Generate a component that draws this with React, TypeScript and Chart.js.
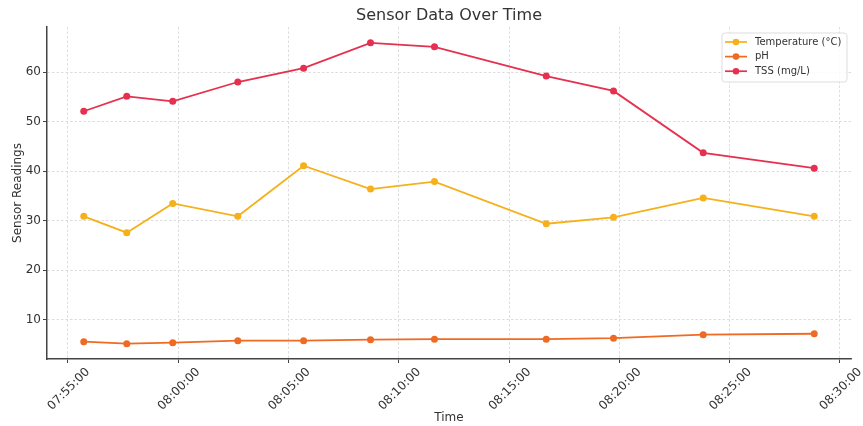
import { useEffect, useRef } from "react";
import { Chart, registerables } from "chart.js";

Chart.register(...registerables);

const times = ["07:55:43", "07:57:40", "07:59:45", "08:02:42", "08:05:41", "08:08:43", "08:11:37", "08:16:41", "08:19:44", "08:23:48", "08:28:50"];
const temperature = [30.9, 27.6, 33.5, 30.9, 41.1, 36.4, 37.9, 29.4, 30.7, 34.6, 30.9];
const ph = [5.6, 5.2, 5.4, 5.8, 5.8, 6.0, 6.1, 6.1, 6.3, 7.0, 7.2];
const tss = [52.1, 55.1, 54.1, 58.0, 60.8, 65.9, 65.1, 59.2, 56.2, 43.7, 40.6];
const xTickLabels = ["07:55:00", "08:00:00", "08:05:00", "08:10:00", "08:15:00", "08:20:00", "08:25:00", "08:30:00"];
const yTicks = [10, 20, 30, 40, 50, 60];
const xRange = ["07:54:03", "08:30:30"];
const yRange = [2.1, 69.1];
const seriesLabels = ["Temperature (°C)", "pH", "TSS (mg/L)"];
const seriesColors = ["#f5b01a", "#ef6a22", "#e6304f"];

const toSec = (t: string) => {
  const [h, m, s] = t.split(":").map(Number);
  return h * 3600 + m * 60 + s;
};

const FONT = "'DejaVu Sans', sans-serif";

const titlePlugin = {
  id: "centeredTitle",
  afterDraw(chart: any) {
    const { ctx, chartArea } = chart;
    ctx.save();
    ctx.font = `16px ${FONT}`;
    ctx.fillStyle = "#333333";
    ctx.textAlign = "center";
    ctx.textBaseline = "middle";
    ctx.fillText("Sensor Data Over Time", (chartArea.left + chartArea.right) / 2, 16);
    ctx.restore();
  },
};

const legendPlugin = {
  id: "insideLegend",
  afterDraw(chart: any) {
    const { ctx, chartArea } = chart;
    const w = 125;
    const h = 49;
    const x0 = chartArea.right - 4 - w;
    const y0 = chartArea.top + 6;
    ctx.save();
    ctx.beginPath();
    ctx.roundRect(x0, y0, w, h, 3);
    ctx.fillStyle = "rgba(255,255,255,0.85)";
    ctx.fill();
    ctx.strokeStyle = "#dddddd";
    ctx.lineWidth = 1;
    ctx.stroke();
    chart.data.datasets.forEach((ds: any, i: number) => {
      const y = y0 + 9 + i * 14.6;
      ctx.strokeStyle = ds.borderColor;
      ctx.lineWidth = 1.7;
      ctx.beginPath();
      ctx.moveTo(x0 + 3, y);
      ctx.lineTo(x0 + 25, y);
      ctx.stroke();
      ctx.fillStyle = ds.borderColor;
      ctx.beginPath();
      ctx.arc(x0 + 14, y, 3.3, 0, Math.PI * 2);
      ctx.fill();
      ctx.fillStyle = "#333333";
      ctx.font = `10px ${FONT}`;
      ctx.textAlign = "left";
      ctx.textBaseline = "middle";
      ctx.fillText(ds.label, x0 + 33, y);
    });
    ctx.restore();
  },
};

export default function App() {
  const ref = useRef<HTMLCanvasElement | null>(null);
  useEffect(() => {
    if (!ref.current) return;
    const xs = times.map(toSec);
    const series = [temperature, ph, tss];
    const chart = new Chart(ref.current, {
      type: "line",
      data: {
        datasets: series.map((vals, i) => ({
          label: seriesLabels[i],
          data: vals.map((v, j) => ({ x: xs[j], y: v })),
          borderColor: seriesColors[i],
          backgroundColor: seriesColors[i],
          borderWidth: 1.8,
          pointRadius: 3.5,
          pointBorderWidth: 0,
          pointBackgroundColor: seriesColors[i],
          tension: 0,
          fill: false,
        })),
      },
      options: {
        responsive: false,
        animation: false,
        layout: { padding: { top: 27, right: 12, left: 0, bottom: 0 } },
        plugins: {
          legend: { display: false },
          title: { display: false },
          tooltip: { enabled: false },
        },
        scales: {
          x: {
            type: "linear",
            min: toSec(xRange[0]),
            max: toSec(xRange[1]),
            afterBuildTicks: (scale: any) => {
              scale.ticks = xTickLabels.map((l) => ({ value: toSec(l) }));
            },
            afterFit: (scale: any) => {
              scale.height = 67;
            },
            ticks: {
              autoSkip: false,
              minRotation: 45,
              maxRotation: 45,
              padding: 2,
              labelOffset: 20,
              color: "#333333",
              font: { family: FONT, size: 12 },
              callback: (_v: any, i: number) => xTickLabels[i],
            },
            grid: {
              color: "#d4d4d4",
              lineWidth: 0.8,
              tickColor: "#444444",
              tickLength: 4,
              tickWidth: 1,
            },
            border: { color: "#444444", width: 1.5, dash: [2.5, 2] },
            title: {
              display: true,
              text: "Time",
              color: "#333333",
              font: { family: FONT, size: 12 },
              padding: { top: 0, bottom: 1 },
            },
          },
          y: {
            type: "linear",
            min: yRange[0],
            max: yRange[1],
            afterBuildTicks: (scale: any) => {
              scale.ticks = yTicks.map((v) => ({ value: v }));
            },
            afterFit: (scale: any) => {
              scale.width = 47;
            },
            ticks: {
              padding: 2,
              color: "#333333",
              font: { family: FONT, size: 12 },
              callback: (v: any) => String(v),
            },
            grid: {
              color: "#d4d4d4",
              lineWidth: 0.8,
              tickColor: "#444444",
              tickLength: 4,
              tickWidth: 1,
            },
            border: { color: "#444444", width: 1.5, dash: [2.5, 2] },
            title: {
              display: true,
              text: "Sensor Readings",
              color: "#333333",
              font: { family: FONT, size: 12 },
              padding: { top: 11, bottom: 0 },
            },
          },
        },
      },
      plugins: [titlePlugin, legendPlugin],
    });
    return () => chart.destroy();
  }, []);
  return (
    <div style={{ position: "absolute", left: 0, top: 0, width: 863, height: 426, background: "#ffffff" }}>
      <canvas ref={ref} width={863} height={426} />
    </div>
  );
}
